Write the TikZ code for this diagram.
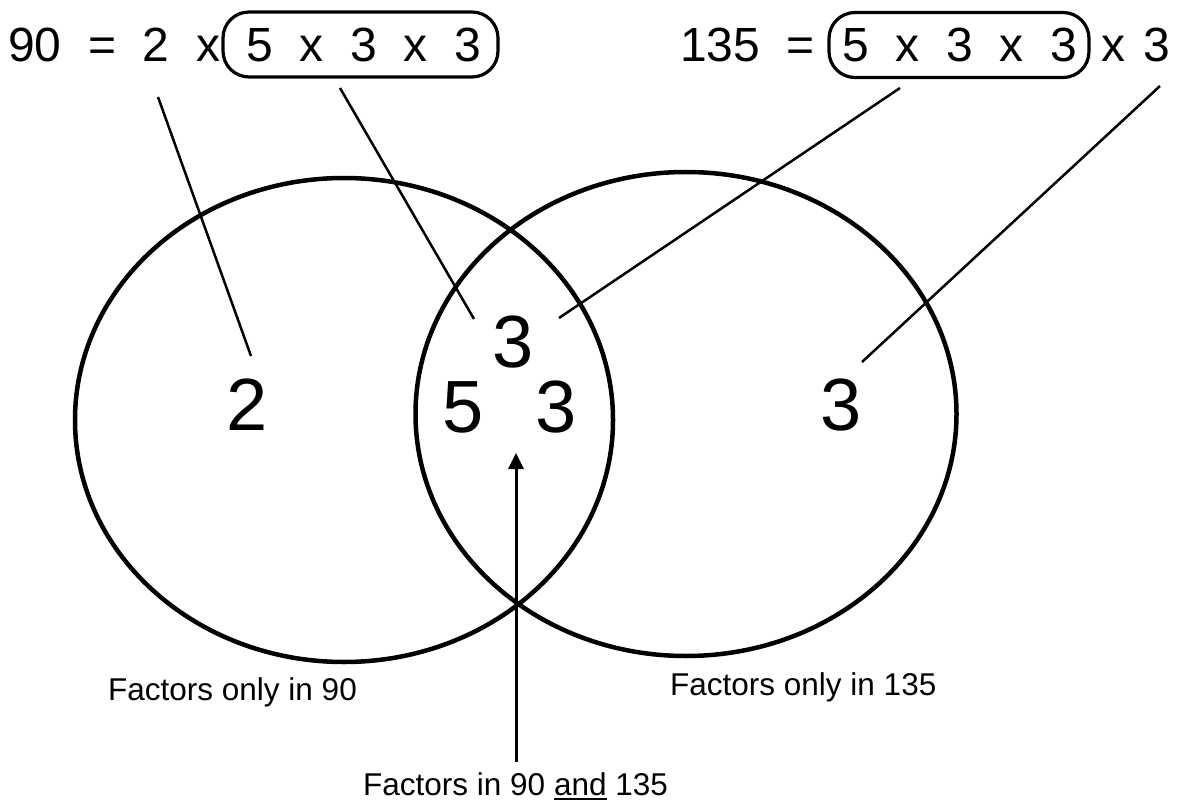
\documentclass[tikz,border=0pt]{standalone}
\usepackage{fontspec}
\setmainfont{Liberation Sans}
\usetikzlibrary{shapes.geometric,arrows.meta}
\newcommand\myul[1]{\setbox0\hbox{#1}\rlap{\rule[-5pt]{\wd0}{2.2pt}}#1}
\begin{document}
\begin{tikzpicture}[x=1pt,y=-1pt,
  eq/.style={anchor=base west,inner sep=0pt,font=\fontsize{48}{58}\selectfont},
  big/.style={anchor=base west,inner sep=0pt,font=\fontsize{74}{88}\selectfont},
  lbl/.style={anchor=base west,inner sep=0pt,font=\fontsize{31.5}{38}\selectfont},
  setc/.style={draw,ellipse,line width=4.5pt,inner sep=0pt},
  grp/.style={draw,rectangle,rounded corners=26pt,line width=3.2pt,inner sep=0pt},
  conn/.style={line width=2.5pt},
  arr/.style={line width=3pt,-{Triangle[width=15pt,length=16pt]}},
]
\useasboundingbox (0,0) rectangle (1186,802);
% sets
\node[setc,minimum width=538pt,minimum height=484pt] (setA) at (344,420) {};
\node[setc,minimum width=541pt,minimum height=484pt] (setB) at (686,414) {};
% equations
\node[eq] (eqL) at (8,62) {90~~=~~2~~x};
\node[grp,minimum width=275pt,minimum height=65pt] (boxL) at (360.5,44.5) {};
\node[eq] (inL) at (246,62) {5~~x~~3~~x~~3};
\node[eq] (eqR) at (680,62) {135~~=};
\node[grp,minimum width=260pt,minimum height=65pt] (boxR) at (959,45) {};
\node[eq] (inR) at (842,62) {5~~x~~3~~x~~3};
\node[eq] (xR) at (1101,62) {x};
\node[eq] (tR) at (1143,62) {3};
% factors
\node[big] (fA) at (226,430) {2};
\node[big] (fC1) at (492,367) {3};
\node[big] (fC2) at (442,432) {5};
\node[big] (fC3) at (535,432) {3};
\node[big] (fB) at (820,430) {3};
% labels
\node[lbl] (lA) at (108,700) {Factors only in 90};
\node[lbl] (lB) at (670,695) {Factors only in 135};
\node[lbl] (lC) at (363,795) {Factors in 90 \myul{and} 135};
% connector ends
\coordinate (a1) at (158,97);  \coordinate (a2) at (251,356);
\coordinate (b1) at (340,88);  \coordinate (b2) at (474,319);
\coordinate (c1) at (900,88);  \coordinate (c2) at (559,318);
\coordinate (d1) at (1160,86); \coordinate (d2) at (862,362);
\coordinate (e1) at (516,762); \coordinate (e2) at (516,453);
\draw[conn] (a1) -- (a2);
\draw[conn] (b1) -- (b2);
\draw[conn] (c1) -- (c2);
\draw[conn] (d1) -- (d2);
\draw[arr] (e1) -- (e2);
\end{tikzpicture}
\end{document}
